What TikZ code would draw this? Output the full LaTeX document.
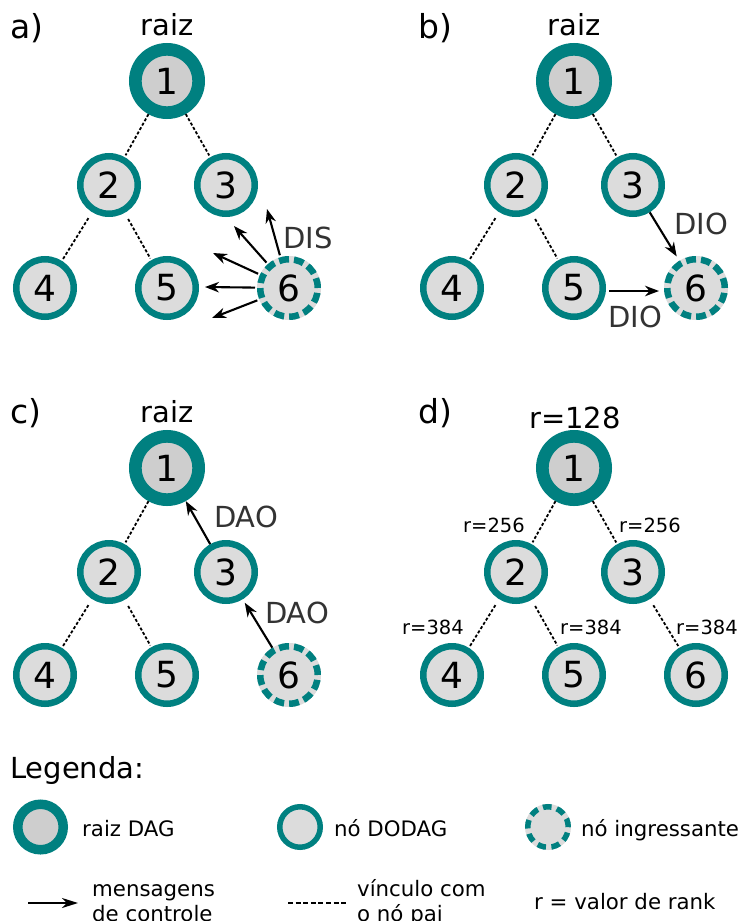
\documentclass[tikz,border=0pt]{standalone}
\usepackage{fontspec}
\setmainfont{DejaVu Sans}
\usetikzlibrary{arrows.meta,calc}
\definecolor{teal1}{RGB}{0,128,128}
\definecolor{rootfill}{RGB}{206,206,206}
\definecolor{nodefill}{RGB}{220,220,220}
\definecolor{msgtext}{RGB}{51,51,51}
\tikzset{
  rootnode/.style={circle, draw=teal1, fill=rootfill, line width=12.7pt, minimum size=63.3pt, inner sep=0pt, font=\fontsize{36}{40}\selectfont},
  dodagnode/.style={circle, draw=teal1, fill=nodefill, line width=6.5pt, minimum size=57.5pt, inner sep=0pt, font=\fontsize{36}{40}\selectfont},
  joinnode/.style={dodagnode, preaction={draw=nodefill, solid}, dash pattern=on 10pt off 5.05pt},
  legroot/.style={circle, draw=teal1, fill=rootfill, line width=9.5pt, minimum size=45.5pt, inner sep=0pt},
  legdodag/.style={circle, draw=teal1, fill=nodefill, line width=5.5pt, minimum size=40.5pt, inner sep=0pt},
  legjoin/.style={legdodag, preaction={draw=nodefill, solid}, dash pattern=on 8.6pt off 5.5pt},
  parentlink/.style={line width=1.8pt, dash pattern=on 3pt off 2pt},
  msg/.style={line width=2.1pt, -{Stealth[length=14pt,width=10.5pt,inset=4.5pt]}},
  legmsg/.style={line width=2.3pt, -{Stealth[length=16pt,width=10pt,inset=5pt]}},
  msglabel/.style={text=msgtext, font=\fontsize{29}{32}\selectfont, inner sep=0pt},
  biglabel/.style={font=\fontsize{29}{32}\selectfont, inner sep=0pt},
  panellabel/.style={font=\fontsize{33}{36}\selectfont, inner sep=0pt},
  ranklabel/.style={font=\fontsize{19.5}{22}\selectfont, inner sep=0pt},
  legtext/.style={font=\fontsize{21.3}{25}\selectfont, inner sep=0pt, align=left},
}
\begin{document}
\begin{tikzpicture}[x=1pt, y=-1pt]
\useasboundingbox (0,0) rectangle (741,921);

% ---------- panel a ----------
\node[panellabel, anchor=base west] (la) at (10,38) {a)};
\node[biglabel] (ra) at (167,25) {raiz};
\node[rootnode]  (a1) at (167,81) {1};
\node[dodagnode] (a2) at (109,185) {2};
\node[dodagnode] (a3) at (226,185) {3};
\node[dodagnode] (a4) at (45,288) {4};
\node[dodagnode] (a5) at (167,288) {5};
\node[joinnode]  (a6) at (289,288) {6};
\draw[parentlink, shorten >=2pt] (a1) -- (a2);
\draw[parentlink, shorten >=2pt] (a1) -- (a3);
\draw[parentlink, shorten <=7pt, shorten >=2pt] (a2) -- (a4);
\draw[parentlink, shorten <=7pt, shorten >=2pt] (a2) -- (a5);
\coordinate (t1) at (267,209);
\coordinate (t2) at (234,226);
\coordinate (t3) at (213,253);
\coordinate (t4) at (205,287);
\coordinate (t5) at (212,318);
\foreach \t in {t1,t2,t3,t4,t5} \draw[msg, shorten <=2pt] (a6) -- (\t);
\node[msglabel] (dis) at (308,238) {DIS};

% ---------- panel b ----------
\node[panellabel, anchor=base west] (lb) at (418,38) {b)};
\node[biglabel] (rb) at (574,25) {raiz};
\node[rootnode]  (b1) at (574,81) {1};
\node[dodagnode] (b2) at (516,185) {2};
\node[dodagnode] (b3) at (633,185) {3};
\node[dodagnode] (b4) at (452,288) {4};
\node[dodagnode] (b5) at (574,288) {5};
\node[joinnode]  (b6) at (696,288) {6};
\draw[parentlink, shorten >=2pt] (b1) -- (b2);
\draw[parentlink, shorten >=2pt] (b1) -- (b3);
\draw[parentlink, shorten <=7pt, shorten >=2pt] (b2) -- (b4);
\draw[parentlink, shorten <=7pt, shorten >=2pt] (b2) -- (b5);
\draw[msg, shorten >=5pt] (b3) -- (b6);
\draw[msg, shorten <=3pt, shorten >=5pt] ([yshift=-3pt]b5.east) -- ([yshift=-3pt]b6.west);
\node[msglabel] (dio1) at (701,224) {DIO};
\node[msglabel] (dio2) at (635,317) {DIO};

% ---------- panel c ----------
\node[panellabel, anchor=base west] (lc) at (10,423) {c)};
\node[biglabel] (rc) at (167,412) {raiz};
\node[rootnode]  (c1) at (167,468) {1};
\node[dodagnode] (c2) at (109,572) {2};
\node[dodagnode] (c3) at (226,572) {3};
\node[dodagnode] (c4) at (45,675) {4};
\node[dodagnode] (c5) at (167,675) {5};
\node[joinnode]  (c6) at (289,675) {6};
\draw[parentlink, shorten >=2pt] (c1) -- (c2);
\draw[parentlink, shorten <=7pt, shorten >=2pt] (c2) -- (c4);
\draw[parentlink, shorten <=7pt, shorten >=2pt] (c2) -- (c5);
\draw[msg] (c3) -- (c1);
\draw[msg, shorten >=4pt] (c6) -- (c3);
\node[msglabel] (dao1) at (246,517) {DAO};
\node[msglabel] (dao2) at (297,613) {DAO};

% ---------- panel d ----------
\node[panellabel, anchor=base west] (ld) at (418,423) {d)};
\node[biglabel] (r128) at (575,418) {r=128};
\node[rootnode]  (d1) at (574,468) {1};
\node[dodagnode] (d2) at (516,572) {2};
\node[dodagnode] (d3) at (633,572) {3};
\node[dodagnode] (d4) at (452,675) {4};
\node[dodagnode] (d5) at (574,675) {5};
\node[dodagnode] (d6) at (696,675) {6};
\draw[parentlink, shorten >=2pt] (d1) -- (d2);
\draw[parentlink, shorten >=2pt] (d1) -- (d3);
\draw[parentlink, shorten <=7pt, shorten >=2pt] (d2) -- (d4);
\draw[parentlink, shorten <=7pt, shorten >=2pt] (d2) -- (d5);
\draw[parentlink, shorten <=7pt, shorten >=2pt] (d3) -- (d6);
\node[ranklabel] (r2) at (494,525) {r=256};
\node[ranklabel] (r3) at (650,525) {r=256};
\node[ranklabel] (r4) at (433,627) {r=384};
\node[ranklabel] (r5) at (591,627) {r=384};
\node[ranklabel] (r6) at (707,627) {r=384};

% ---------- legend ----------
\node[biglabel, anchor=base west] (leg) at (10,778) {Legenda:};
\node[legroot]  (lr) at (40.5,827) {};
\node[legtext, anchor=base west] (lrt) at (82,836) {raiz DAG};
\node[legdodag] (ld2) at (300,827) {};
\node[legtext, anchor=base west] (ldt) at (334,836) {nó DODAG};
\node[legjoin]  (lj) at (548,827) {};
\node[legtext, anchor=base west] (ljt) at (581,836) {nó ingressante};
\coordinate (ms) at (28,903);
\coordinate (me) at (78,903);
\draw[legmsg] (ms) -- (me);
\node[legtext, anchor=base west] (mst) at (92,921) {mensagens\\de controle};
\coordinate (ls) at (288,903);
\coordinate (le) at (348,903);
\draw[line width=2pt, dash pattern=on 5pt off 2.6pt] (ls) -- (le);
\node[legtext, anchor=base west] (lst) at (357,921) {vínculo com\\o nó pai};
\node[legtext, anchor=base west] (rk) at (534,909) {r = valor de rank};
\end{tikzpicture}
\end{document}
